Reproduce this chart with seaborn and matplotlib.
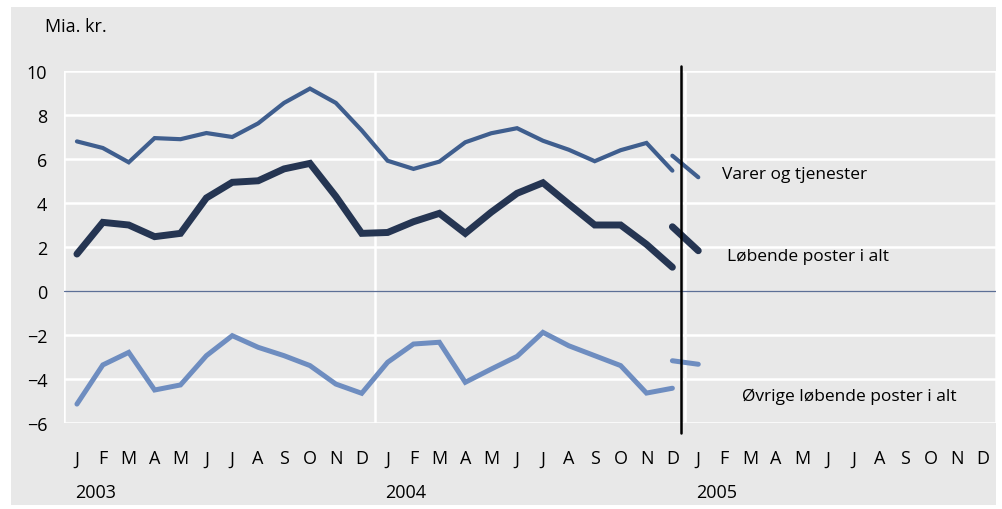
import numpy as np
import pandas as pd
import matplotlib.pyplot as plt
from matplotlib.patches import Rectangle
import seaborn as sns

# Betalingsbalancens løbende poster, mia. kr. (sæsonkorrigeret)
months = list("JFMAMJJASOND") * 3
years = ["2003", "2004", "2005"]

varer = [6.8, 6.5, 5.85, 6.95, 6.9, 7.18, 7.0, 7.62, 8.55, 9.2, 8.55, 7.3,
         5.92, 5.55, 5.88, 6.76, 7.17, 7.4, 6.83, 6.42, 5.9, 6.4, 6.73, 5.47]
lobende = [1.68, 3.12, 3.0, 2.47, 2.62, 4.23, 4.94, 5.01, 5.55, 5.8, 4.3, 2.62,
           2.66, 3.15, 3.53, 2.62, 3.58, 4.44, 4.92, 3.95, 3.0, 3.0, 2.12, 1.08]
ovrige = [-5.14, -3.36, -2.79, -4.5, -4.27, -2.94, -2.03, -2.56, -2.94, -3.39, -4.23, -4.65,
          -3.24, -2.41, -2.33, -4.15, -3.55, -2.97, -1.88, -2.49, -2.94, -3.39, -4.64, -4.42]

# ny opgørelse (dec. 2004 - jan. 2005)
varer_ny = [6.15, 5.17]
lobende_ny = [2.92, 1.83]
ovrige_ny = [-3.17, -3.33]
ny_idx = [23, 24]

brud = 23.35  # lodret streg ved databrud

bg = "#e8e8e8"
c_varer = "#3f5e8e"
c_lob = "#253552"
c_ovr = "#6e8dc0"

sns.set_style("white", {"axes.facecolor": bg})
plt.rcParams["font.family"] = ["Open Sans", "DejaVu Sans"]
plt.rcParams["text.color"] = "black"
plt.rcParams["xtick.color"] = "black"
plt.rcParams["ytick.color"] = "black"

fig = plt.figure(figsize=(10.02, 5.10), dpi=100)
fig.add_artist(Rectangle((11 / 1002, 1 - 506 / 510), 985 / 1002, 498 / 510,
                         transform=fig.transFigure, facecolor=bg, edgecolor="none", zorder=0))
ax = fig.add_axes([64 / 1002, 1 - 424 / 510, 932 / 1002, 352 / 510])
ax.set_facecolor(bg)

idx = np.arange(len(varer))
df = pd.DataFrame({"idx": idx, "varer": varer, "lobende": lobende, "ovrige": ovrige})
df_ny = pd.DataFrame({"idx": ny_idx, "varer": varer_ny, "lobende": lobende_ny, "ovrige": ovrige_ny})

# gitter
for y in [10, 8, 6, 4, 2, -2, -4, -6]:
    ax.axhline(y, color="white", lw=1.8, zorder=1)
for x in [-0.5, 11.5, 23.5, 35.5]:
    ax.axvline(x, color="white", lw=1.8, zorder=1)
ax.axhline(0, color="#5c6f96", lw=0.9, zorder=2)

for d in [df, df_ny]:
    sns.lineplot(data=d, x="idx", y="varer", ax=ax, color=c_varer, lw=3.0,
                 solid_capstyle="round", solid_joinstyle="miter", zorder=3)
    sns.lineplot(data=d, x="idx", y="ovrige", ax=ax, color=c_ovr, lw=3.6,
                 solid_capstyle="round", solid_joinstyle="miter", zorder=3)
    sns.lineplot(data=d, x="idx", y="lobende", ax=ax, color=c_lob, lw=5.0,
                 solid_capstyle="round", solid_joinstyle="miter", zorder=4)

ax.plot([brud, brud], [10.23, -6.45], color="black", lw=1.8, clip_on=False, zorder=5)

ax.set_xlim(-0.5, 35.5)
ax.set_ylim(-6, 10)
ax.set_yticks([10, 8, 6, 4, 2, 0, -2, -4, -6])
ax.set_xticks(range(36))
ax.set_xticklabels(months)
ax.tick_params(axis="x", length=0, pad=19, labelsize=13)
ax.tick_params(axis="y", length=0, pad=12, labelsize=13)
ax.set_xlabel("")
ax.set_ylabel("")
for s in ax.spines.values():
    s.set_visible(False)

for i, yr in enumerate(years):
    ax.text(i * 12 - 0.08, -0.196, yr, transform=ax.get_xaxis_transform(),
            ha="left", va="center", fontsize=13)

ax.text(24.9, 5.3, "Varer og tjenester", fontsize=12.5, va="center", ha="left")
ax.text(25.1, 1.6, "Løbende poster i alt", fontsize=12.5, va="center", ha="left")
ax.text(25.7, -4.76, "Øvrige løbende poster i alt", fontsize=12.5, va="center", ha="left")

fig.text(45 / 1002, 1 - 27 / 510, "Mia. kr.", fontsize=13, va="center", ha="left")

fig.savefig("out.png", dpi=100, facecolor="white")
